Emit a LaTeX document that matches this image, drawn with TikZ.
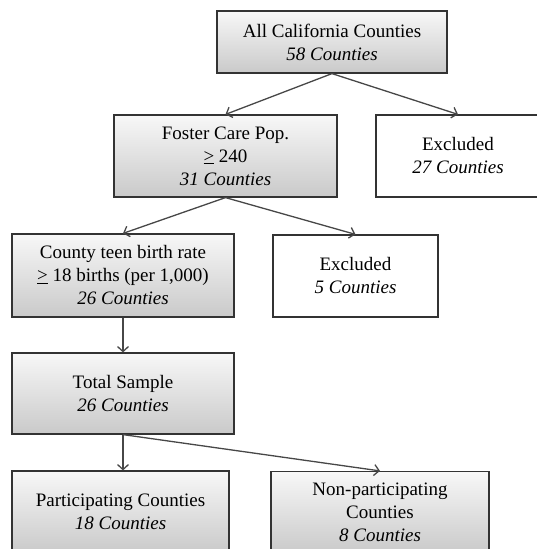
\documentclass[tikz,border=0pt]{standalone}
\usepackage{fontspec}
\setmainfont{Liberation Serif}
\usetikzlibrary{arrows.meta}

\begin{document}
\begin{tikzpicture}[x=1pt,y=-1pt,
	box/.style={draw=black!80, line width=1.2pt, align=center, inner sep=0pt,
		font=\fontsize{19}{23}\selectfont},
	greybox/.style={box, top color=gray!6, bottom color=gray!42},
	whitebox/.style={box, fill=white},
	arr/.style={draw=black!72, line width=1.3pt, -{Straight Barb[length=5pt,width=11pt]}}]

	\useasboundingbox (0,0) rectangle (536,549);

	% ---- boxes

	\node[greybox, minimum width=230pt, minimum height=62pt] (all) at (332,42)
		{All California Counties\\ \textit{58 Counties}};
	\node[greybox, minimum width=223pt, minimum height=82pt] (foster) at (225.5,156)
		{Foster Care Pop.\\ \underline{>} 240\\ \textit{31 Counties}};
	\node[whitebox, minimum width=164pt, minimum height=82pt] (excl1) at (458,156)
		{Excluded\\ \textit{27 Counties}};
	\node[greybox, minimum width=222pt, minimum height=83pt] (teen) at (123,275.5)
		{County teen birth rate\\ \underline{>} 18 births (per 1,000)\\ \textit{26 Counties}};
	\node[whitebox, minimum width=165pt, minimum height=82pt] (excl2) at (355.5,276)
		{Excluded\\ \textit{5 Counties}};
	\node[greybox, minimum width=222pt, minimum height=81pt] (total) at (123,393.5)
		{Total Sample\\ \textit{26 Counties}};
	\node[greybox, minimum width=217pt, minimum height=82pt] (part) at (120.5,512)
		{Participating Counties\\ \textit{18 Counties}};
	\node[greybox, minimum width=218pt, minimum height=82pt] (nonpart) at (380,512.5)
		{Non-participating\\ Counties\\ \textit{8 Counties}};

	% ---- arrows

	\draw[arr] (all.south) -- (foster.north);
	\draw[arr] (all.south) -- (excl1.north);
	\draw[arr] (foster.south) -- (teen.north);
	\draw[arr] (foster.south) -- (excl2.north);
	\draw[arr] (teen.south) -- (total.north);
	\draw[arr] (total.south) -- (total.south |- part.north);
	\draw[arr] (total.south) -- (nonpart.north);

\end{tikzpicture}
\end{document}
